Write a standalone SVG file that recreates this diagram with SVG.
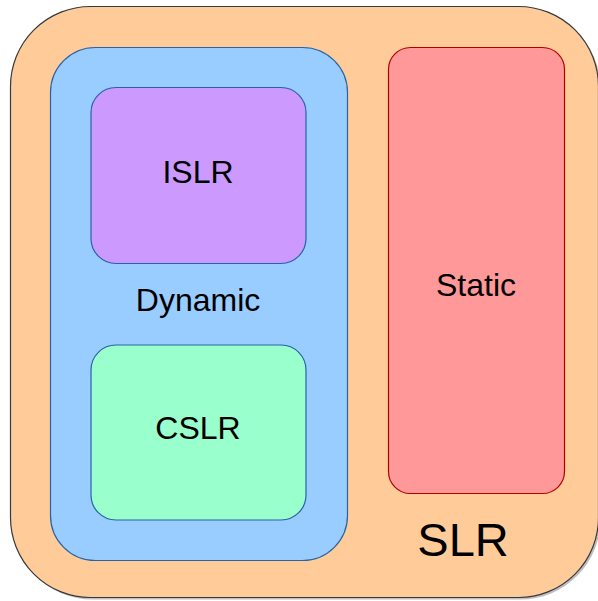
<svg xmlns="http://www.w3.org/2000/svg" width="598" height="601" viewBox="0 0 598 601">
<style>
text{font-family:"Liberation Sans",Arial,sans-serif;fill:#000;text-anchor:middle}
.lbl{font-size:32px}
.blue{stroke:#2a62a6;stroke-width:1.2}
</style>
<rect x="0" y="0" width="598" height="601" fill="#fff"/>
<g id="SLR">
<rect x="12.5" y="8.5" width="588" height="591" rx="80" fill="#000" opacity="0.25"/>
<rect x="10.5" y="6.5" width="588" height="591" rx="80" fill="#FFCC99" stroke="#36393d" stroke-width="1.2"/>
<text x="463" y="556" font-size="47">SLR</text>
</g>
<g id="Dynamic">
<rect x="50.5" y="47.5" width="297" height="513" rx="45" fill="#99CCFF" class="blue"/>
<text class="lbl" x="198" y="311">Dynamic</text>
</g>
<g id="ISLR">
<rect x="91" y="87.5" width="215" height="176" rx="25" fill="#CC99FF" class="blue"/>
<text class="lbl" x="198" y="183">ISLR</text>
</g>
<g id="CSLR">
<rect x="91" y="345" width="215" height="175" rx="25" fill="#99FFCC" class="blue"/>
<text class="lbl" x="198" y="439">CSLR</text>
</g>
<g id="Static">
<rect x="388.5" y="47.5" width="176" height="446" rx="22" fill="#FF9999" stroke="#b20000" stroke-width="1.2"/>
<text class="lbl" x="476" y="296">Static</text>
</g>
<g id="connectors"/>
</svg>
